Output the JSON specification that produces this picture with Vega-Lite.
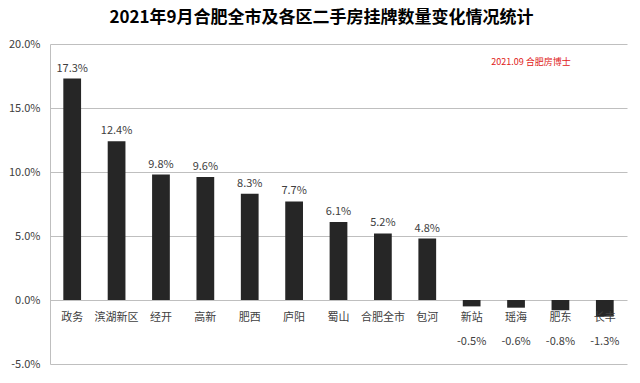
{
  "$schema": "https://vega.github.io/schema/vega-lite/v6.json",
  "width": 577,
  "height": 320,
  "autosize": {"type": "none"},
  "padding": {"left": 50, "top": 44, "right": 13, "bottom": 19},
  "background": "white",
  "title": {
    "text": "2021年9月合肥全市及各区二手房挂牌数量变化情况统计",
    "font": "Noto Sans CJK SC",
    "fontSize": 17,
    "fontWeight": "bold",
    "color": "#000000",
    "anchor": "middle",
    "dx": -17,
    "offset": 11
  },
  "config": {
    "view": {"stroke": null},
    "font": "Noto Sans CJK SC"
  },
  "data": {
    "values": [
      {"area": "政务", "value": 0.173},
      {"area": "滨湖新区", "value": 0.124},
      {"area": "经开", "value": 0.098},
      {"area": "高新", "value": 0.096},
      {"area": "肥西", "value": 0.083},
      {"area": "庐阳", "value": 0.077},
      {"area": "蜀山", "value": 0.061},
      {"area": "合肥全市", "value": 0.052},
      {"area": "包河", "value": 0.048},
      {"area": "新站", "value": -0.005},
      {"area": "瑶海", "value": -0.006},
      {"area": "肥东", "value": -0.008},
      {"area": "长丰", "value": -0.013}
    ]
  },
  "encoding": {
    "x": {
      "field": "area",
      "type": "nominal",
      "sort": null,
      "scale": {"paddingInner": 0.6, "paddingOuter": 0.3},
      "axis": {
        "title": null,
        "orient": "bottom",
        "offset": -64,
        "labelAngle": 0,
        "ticks": false,
        "domain": false,
        "labelPadding": 11,
        "labelFont": "Noto Sans CJK SC",
        "labelFontSize": 11,
        "labelColor": "#404040",
        "zindex": 1
      }
    },
    "y": {
      "field": "value",
      "type": "quantitative",
      "scale": {"domain": [-0.05, 0.2], "nice": false},
      "axis": {
        "title": null,
        "values": [-0.05, 0, 0.05, 0.1, 0.15, 0.2],
        "format": ".1%",
        "labelExpr": "replace(datum.label, '−', '-')",
        "ticks": false,
        "domain": true,
        "domainColor": "#bfbfbf",
        "gridColor": "#bfbfbf",
        "labelPadding": 10,
        "labelFont": "Noto Sans CJK SC",
        "labelFontSize": 11,
        "labelColor": "#404040"
      }
    }
  },
  "layer": [
    {"mark": {"type": "bar", "color": "#262626"}},
    {
      "transform": [{"filter": "datum.value >= 0"}],
      "mark": {"type": "text", "baseline": "bottom", "dy": -5, "fontSize": 11, "color": "#404040", "font": "Noto Sans CJK SC"},
      "encoding": {"text": {"field": "value", "format": ".1%"}}
    },
    {
      "transform": [{"filter": "datum.value < 0"}],
      "mark": {"type": "text", "baseline": "middle", "fontSize": 11, "color": "#404040", "font": "Noto Sans CJK SC",
               "text": {"expr": "replace(format(datum.value, '.1%'), '−', '-')"}},
      "encoding": {
        "y": {"datum": -0.033}
      }
    },
    {
      "data": {"values": [{"note": "2021.09 合肥房博士", "x": "瑶海", "y": 0.186}]},
      "mark": {"type": "text", "fontSize": 9, "color": "#e02020", "dx": 15, "font": "Noto Sans CJK SC"},
      "encoding": {
        "x": {"field": "x", "type": "nominal"},
        "y": {"field": "y", "type": "quantitative"},
        "text": {"field": "note"}
      }
    }
  ]
}
